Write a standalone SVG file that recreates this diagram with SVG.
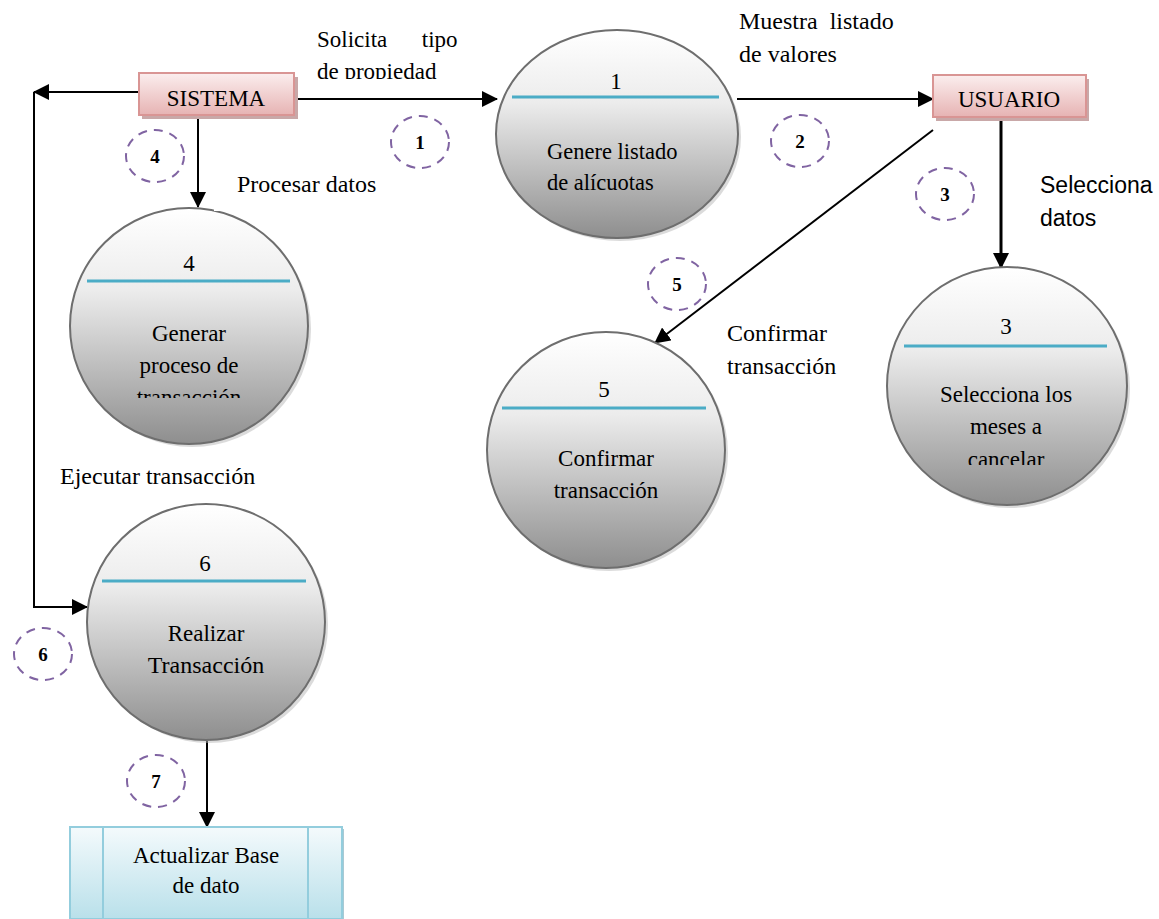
<svg xmlns="http://www.w3.org/2000/svg" width="1159" height="919" viewBox="0 0 1159 919">
<defs>
<linearGradient id="gc" x1="0" y1="0" x2="0" y2="1">
<stop offset="0" stop-color="#ffffff"/>
<stop offset="0.35" stop-color="#ececec"/>
<stop offset="1" stop-color="#8e8e8e"/>
</linearGradient>
<linearGradient id="gp" x1="0" y1="0" x2="0" y2="1">
<stop offset="0" stop-color="#fbeeee"/>
<stop offset="1" stop-color="#e6b3b3"/>
</linearGradient>
<linearGradient id="gb" x1="0" y1="0" x2="0" y2="1">
<stop offset="0" stop-color="#f4fafc"/>
<stop offset="1" stop-color="#b9e0ea"/>
</linearGradient>
<marker id="ahb" markerWidth="16" markerHeight="16" refX="15" refY="8" orient="auto" markerUnits="userSpaceOnUse" viewBox="0 0 16 16">
<path d="M0,0 L16,8 L0,16 z" fill="#000"/>
</marker>
<clipPath id="c4"><rect x="60" y="200" width="260" height="198"/></clipPath>
<clipPath id="c3"><rect x="880" y="260" width="260" height="205"/></clipPath>
<clipPath id="cs"><rect x="300" y="20" width="200" height="59"/></clipPath>
<clipPath id="csis"><rect x="140" y="74" width="154" height="33"/></clipPath>
<clipPath id="cusu"><rect x="934" y="76" width="152" height="32"/></clipPath>
</defs>
<style>
.t{font-family:"Liberation Serif","Times New Roman",serif;font-size:23px;fill:#000}
.c{text-anchor:middle}
.n{font-family:"Liberation Serif","Times New Roman",serif;font-size:19px;font-weight:bold;text-anchor:middle;fill:#000}
.proc{fill:url(#gc);stroke:#6e6e6e;stroke-width:2}
.sh{fill:#b8b8b8;opacity:0.5}
.hl{stroke:#4bacc6;stroke-width:3}
.ent{fill:url(#gp);stroke:#d99594;stroke-width:2}
.esh{fill:#c9a8a8}
.dc{fill:none;stroke:#8064a2;stroke-width:2;stroke-dasharray:9,7}
.ln{stroke:#000;stroke-width:2;fill:none}
</style>

<g id="connectors">
<line class="ln" x1="294" y1="99" x2="497" y2="99" marker-end="url(#ahb)"/>
<line class="ln" x1="139" y1="92" x2="34" y2="92" marker-end="url(#ahb)"/>
<polyline class="ln" points="34,92 34,607 87,607" marker-end="url(#ahb)"/>
<line class="ln" x1="198" y1="116" x2="198" y2="207" marker-end="url(#ahb)"/>
<line class="ln" x1="737" y1="99" x2="933" y2="99" marker-end="url(#ahb)"/>
<line x1="1001" y1="119" x2="1001" y2="268" stroke="#000" stroke-width="3" marker-end="url(#ahb)"/>
<line class="ln" x1="933" y1="130" x2="655" y2="343" marker-end="url(#ahb)"/>
<line class="ln" x1="207" y1="741" x2="207" y2="827" marker-end="url(#ahb)"/>
</g>

<g id="sistema">
<rect class="esh" x="142" y="77" width="156" height="42"/>
<rect class="ent" x="139" y="73" width="155" height="42"/>
<text class="t c" x="216" y="106" clip-path="url(#csis)">SISTEMA</text>
</g>

<g id="usuario">
<rect class="esh" x="936" y="79" width="153" height="42"/>
<rect class="ent" x="933" y="75" width="153" height="42"/>
<text class="t c" x="1009" y="107" clip-path="url(#cusu)">USUARIO</text>
</g>

<g id="p1">
<ellipse class="sh" cx="620" cy="137" rx="121" ry="104"/>
<ellipse class="proc" cx="617" cy="134" rx="121" ry="104"/>
<line class="hl" x1="512" y1="97" x2="719" y2="97"/>
<text class="t c" x="616" y="89">1</text>
<text class="t" x="547" y="159" style="font-size:22.5px">Genere listado</text>
<text class="t" x="547" y="190" style="font-size:22.5px">de alícuotas</text>
</g>

<g id="p4">
<ellipse class="sh" cx="192" cy="329" rx="119" ry="118"/>
<ellipse class="proc" cx="189" cy="326" rx="119" ry="118"/>
<rect x="214" y="204" width="12" height="7" fill="#fff"/>
<line class="hl" x1="87" y1="281" x2="290" y2="281"/>
<text class="t c" x="189" y="271">4</text>
<g clip-path="url(#c4)">
<text class="t c" x="189" y="341">Generar</text>
<text class="t c" x="189" y="373">proceso de</text>
<text class="t c" x="189" y="405">transacción</text>
</g>
</g>

<g id="p3">
<ellipse class="sh" cx="1010" cy="389" rx="120" ry="119"/>
<ellipse class="proc" cx="1007" cy="386" rx="120" ry="119"/>
<line class="hl" x1="904" y1="346" x2="1107" y2="346"/>
<text class="t c" x="1006" y="334">3</text>
<g clip-path="url(#c3)">
<text class="t c" x="1006" y="402">Selecciona los</text>
<text class="t c" x="1006" y="434">meses a</text>
<text class="t c" x="1006" y="467">cancelar</text>
</g>
</g>

<g id="p5">
<ellipse class="sh" cx="609" cy="453" rx="119" ry="118"/>
<ellipse class="proc" cx="606" cy="450" rx="119" ry="118"/>
<line class="hl" x1="502" y1="408" x2="706" y2="408"/>
<text class="t c" x="604" y="397">5</text>
<text class="t c" x="606" y="466">Confirmar</text>
<text class="t c" x="606" y="498">transacción</text>
</g>

<g id="p6">
<ellipse class="sh" cx="209" cy="625" rx="119" ry="118"/>
<ellipse class="proc" cx="206" cy="622" rx="119" ry="118"/>
<line class="hl" x1="102" y1="581" x2="306" y2="581"/>
<text class="t c" x="205" y="571">6</text>
<text class="t c" x="206" y="641">Realizar</text>
<text class="t c" x="206" y="673" style="font-size:24px">Transacción</text>
</g>

<g id="db">
<rect x="72" y="829" width="272" height="92" fill="#a9c9d3"/>
<rect x="70" y="827" width="272" height="92" fill="url(#gb)" stroke="#93cddd" stroke-width="2"/>
<line x1="103" y1="827" x2="103" y2="919" stroke="#93cddd" stroke-width="2"/>
<line x1="308" y1="827" x2="308" y2="919" stroke="#93cddd" stroke-width="2"/>
<text class="t c" x="206" y="863">Actualizar Base</text>
<text class="t c" x="206" y="893">de dato</text>
</g>

<g id="steps">
<ellipse class="dc" cx="420" cy="142" rx="29" ry="26"/><text class="n" x="420" y="149">1</text>
<ellipse class="dc" cx="800" cy="141" rx="29" ry="26"/><text class="n" x="800" y="148">2</text>
<ellipse class="dc" cx="945" cy="194" rx="29" ry="26"/><text class="n" x="945" y="201">3</text>
<ellipse class="dc" cx="155" cy="156" rx="29" ry="26"/><text class="n" x="155" y="163">4</text>
<ellipse class="dc" cx="677" cy="284" rx="29" ry="26"/><text class="n" x="677" y="291">5</text>
<ellipse class="dc" cx="43" cy="654" rx="29" ry="26"/><text class="n" x="43" y="661">6</text>
<ellipse class="dc" cx="156" cy="781" rx="29" ry="26"/><text class="n" x="156" y="788">7</text>
</g>

<g id="labels">
<text class="t" x="317" y="47" xml:space="preserve">Solicita      tipo</text>
<text class="t" x="317" y="79" clip-path="url(#cs)">de propiedad</text>
<text class="t" x="739" y="29" xml:space="preserve" style="font-size:24px">Muestra  listado</text>
<text class="t" x="739" y="62" style="font-size:24px">de valores</text>
<text class="t" x="237" y="192" style="font-size:24px">Procesar datos</text>
<text x="1040" y="193" style="font-family:'Liberation Sans',Arial,sans-serif;font-size:23px">Selecciona</text>
<text x="1040" y="226" style="font-family:'Liberation Sans',Arial,sans-serif;font-size:23px">datos</text>
<text class="t" x="727" y="341" style="font-size:24px">Confirmar</text>
<text class="t" x="727" y="374" style="font-size:24px">transacción</text>
<text class="t" x="60" y="484" style="font-size:24px">Ejecutar transacción</text>
</g>
</svg>
